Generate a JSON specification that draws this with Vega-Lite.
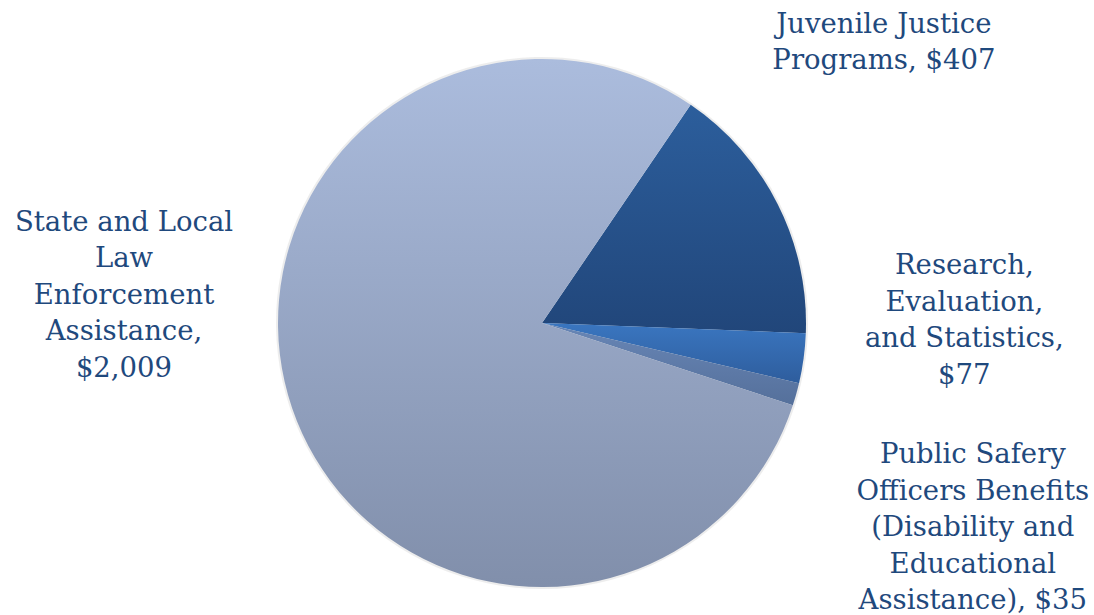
{
  "$schema": "https://vega.github.io/schema/vega-lite/v6.json",
  "width": 1084,
  "height": 584,
  "autosize": {"type": "none"},
  "padding": {"left": 0, "top": 31, "right": 10, "bottom": 0},
  "background": "white",
  "view": {"stroke": null},
  "data": {
    "values": [
      {"cat": "Juvenile Justice Programs", "value": 407, "ord": 1, "label": ["Juvenile Justice", "Programs, $407"]},
      {"cat": "Research, Evaluation, and Statistics", "value": 77, "ord": 2, "label": ["Research,", "Evaluation,", "and Statistics,", "$77"]},
      {"cat": "Public Safery Officers Benefits (Disability and Educational Assistance)", "value": 35, "ord": 3, "label": ["Public Safery", "Officers Benefits", "(Disability and", "Educational", "Assistance), $35"]},
      {"cat": "State and Local Law Enforcement Assistance", "value": 2009, "ord": 4, "label": ["State and Local", "Law", "Enforcement", "Assistance,", "$2,009"]}
    ]
  },
  "encoding": {
    "theta": {"field": "value", "type": "quantitative", "stack": true, "scale": {"range": [0.598, 6.881]}},
    "order": {"field": "ord", "type": "quantitative"}
  },
  "layer": [
    {
      "mark": {"type": "arc", "outerRadius": 266, "fill": "#c4c4c4", "opacity": 0.3, "stroke": null}
    },
    {
      "mark": {"type": "arc", "outerRadius": 264, "stroke": null},
      "encoding": {
        "fill": {
          "condition": [
            {"test": "datum.ord == 1", "value": {"gradient": "linear", "x1": 0, "y1": 0, "x2": 0, "y2": 1, "stops": [{"offset": 0, "color": "#2c5e9c"}, {"offset": 1, "color": "#21467a"}]}},
            {"test": "datum.ord == 2", "value": {"gradient": "linear", "x1": 0, "y1": 0, "x2": 0, "y2": 1, "stops": [{"offset": 0, "color": "#3a76c0"}, {"offset": 1, "color": "#2e5d9d"}]}},
            {"test": "datum.ord == 3", "value": {"gradient": "linear", "x1": 0, "y1": 0, "x2": 0, "y2": 1, "stops": [{"offset": 0, "color": "#6886b6"}, {"offset": 1, "color": "#55709b"}]}}
          ],
          "value": {"gradient": "linear", "x1": 0, "y1": 0, "x2": 0, "y2": 1, "stops": [{"offset": 0, "color": "#abbcdd"}, {"offset": 1, "color": "#818fab"}]}
        }
      }
    },
    {
      "mark": {"type": "text", "radius": 300, "dx": 74, "dy": -177, "align": "center", "baseline": "top", "font": "DejaVu Serif", "fontSize": 27.5, "lineHeight": 36.5, "color": "#1f497d"},
      "encoding": {"text": {"condition": {"test": "datum.ord == 1", "field": "label"}, "value": ""}}
    },
    {
      "mark": {"type": "text", "radius": 300, "dx": 125, "dy": -111, "align": "center", "baseline": "top", "font": "DejaVu Serif", "fontSize": 27.5, "lineHeight": 36.5, "color": "#1f497d"},
      "encoding": {"text": {"condition": {"test": "datum.ord == 2", "field": "label"}, "value": ""}}
    },
    {
      "mark": {"type": "text", "radius": 300, "dx": 142, "dy": 37, "align": "center", "baseline": "top", "font": "DejaVu Serif", "fontSize": 27.5, "lineHeight": 36.5, "color": "#1f497d"},
      "encoding": {"text": {"condition": {"test": "datum.ord == 3", "field": "label"}, "value": ""}}
    },
    {
      "mark": {"type": "text", "radius": 300, "dx": -134, "dy": -211, "align": "center", "baseline": "top", "font": "DejaVu Serif", "fontSize": 27.5, "lineHeight": 36.5, "color": "#1f497d"},
      "encoding": {"text": {"condition": {"test": "datum.ord == 4", "field": "label"}, "value": ""}}
    }
  ]
}
